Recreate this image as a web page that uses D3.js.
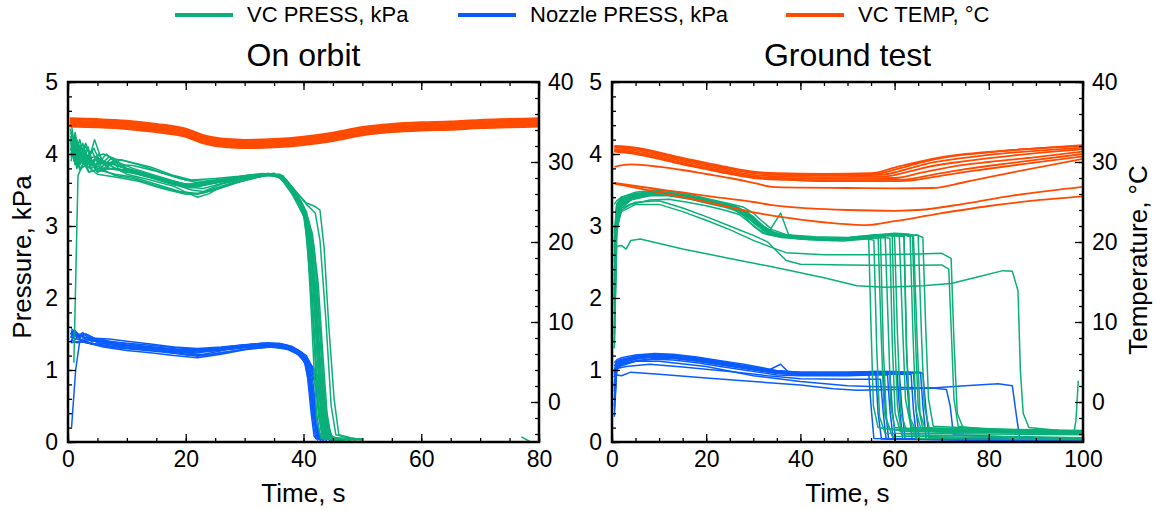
<!DOCTYPE html>
<html><head><meta charset="utf-8">
<script src="https://cdn.jsdelivr.net/npm/d3@7"></script>
<style>body{margin:0;background:#fff}svg{display:block}text{font-family:"Liberation Sans",Arial,Helvetica,sans-serif;fill:#000}</style>
</head><body><svg id="c" width="1156" height="510"></svg>
<script>
// ---------- DATA ----------
const panelTitles = ["On orbit", "Ground test"];
const legendLabels = ["VC PRESS, kPa", "Nozzle PRESS, kPa", "VC TEMP, °C"];
const orbitTimeTicks = [0, 20, 40, 60, 80];
const groundTimeTicks = [0, 20, 40, 60, 80, 100];
const pressTicks = [0, 1, 2, 3, 4, 5];
const tempTicks = [0, 10, 20, 30, 40];

// On orbit: VC pressure traces [time s, kPa]
const orbitVc = [
 [[0.4,4.35],[1,4.15],[2,4.0],[3,4.1],[4,3.95],[6,4.0],[8,3.93],[10,3.9],[14,3.82],[18,3.7],[21,3.64],[25,3.66],[29,3.69],[33,3.73],[36,3.7],[38,3.5],[39.5,3.3],[40.5,3.0],[41.2,2.0],[41.8,1.0],[42.3,0.3],[43,0.05],[46,0.02]],
 [[0.4,4.2],[1,3.95],[2,4.2],[3,3.85],[5,3.95],[7,3.8],[10,3.78],[14,3.7],[18,3.6],[21,3.55],[25,3.6],[29,3.66],[33,3.71],[36,3.68],[38,3.45],[40,3.15],[41,2.6],[41.8,1.4],[42.5,0.4],[43.2,0.05],[47,0.02]],
 [[0.5,4.3],[1.5,3.8],[2.5,4.05],[3.5,3.75],[5,3.78],[8,3.72],[11,3.68],[15,3.58],[19,3.48],[22,3.45],[26,3.55],[30,3.64],[34,3.71],[36.5,3.66],[38.5,3.4],[40.2,3.1],[41.2,2.2],[42,1.2],[42.7,0.3],[43.5,0.04],[48,0.03]],
 [[0.5,4.1],[1.2,4.25],[2,3.9],[3,4.0],[4.5,3.85],[6,3.9],[9,3.82],[12,3.76],[16,3.66],[20,3.58],[24,3.61],[28,3.66],[32,3.71],[35,3.73],[37,3.6],[39,3.4],[40.5,3.1],[41.5,2.4],[42.3,1.3],[43,0.4],[43.7,0.06],[48,0.03]],
 [[0.5,4.05],[1.5,4.2],[2.5,3.85],[4,4.05],[5.5,3.8],[7.5,3.95],[10,3.8],[14,3.68],[18,3.58],[21,3.5],[23,3.48],[26,3.58],[30,3.66],[34,3.72],[36,3.7],[38,3.52],[40,3.25],[41.3,2.9],[42.2,2.0],[43,0.9],[43.8,0.2],[44.5,0.04],[49,0.03]],
 [[0.5,3.95],[1,4.1],[2,3.8],[3.5,3.95],[5,3.75],[7,3.85],[10,3.72],[14,3.64],[18,3.55],[20,3.47],[22,3.4],[24,3.45],[26,3.55],[28,3.6],[31,3.66],[34,3.71],[36.5,3.68],[38.5,3.45],[40.5,3.15],[41.5,2.6],[42.5,1.5],[43.2,0.5],[44,0.06],[50,0.03]],
 [[0.6,4.4],[1.3,4.0],[2.2,4.12],[3.3,3.85],[5,3.95],[7,3.85],[9,3.92],[12,3.85],[16,3.74],[20,3.64],[23,3.62],[27,3.66],[31,3.71],[35,3.73],[37.5,3.55],[39.5,3.3],[40.8,3.0],[41.7,2.2],[42.4,1.1],[43,0.3],[43.6,0.05],[47,0.02]],
 [[0.5,4.15],[1.5,3.9],[2.5,4.15],[3.5,3.9],[4.5,4.2],[6,3.85],[8,3.9],[11,3.8],[15,3.7],[19,3.6],[22,3.55],[26,3.62],[30,3.68],[34,3.73],[37,3.65],[39,3.42],[40.8,3.05],[42,2.5],[42.8,1.5],[43.5,0.5],[44.2,0.06],[48,0.03]],
 [[0.5,4.25],[1.2,3.85],[2.2,3.95],[3.5,3.75],[5.5,3.8],[8,3.7],[11,3.66],[15,3.56],[19,3.47],[22,3.44],[25,3.5],[29,3.61],[33,3.69],[35.5,3.71],[37.5,3.58],[39.5,3.35],[41,3.0],[42,2.1],[42.8,1.0],[43.4,0.2],[44,0.04],[50,0.03]],
 [[0.5,4.0],[1.2,4.3],[2,3.95],[3,4.15],[4.5,3.8],[6.5,4.0],[9,3.82],[13,3.72],[17,3.62],[21,3.55],[25,3.6],[29,3.66],[33,3.72],[36,3.72],[38,3.55],[40,3.28],[41.5,2.9],[42.5,2.2],[43.3,1.2],[44,0.4],[44.7,0.06],[50,0.04]],
 [[0.5,4.1],[1.5,3.85],[3,3.95],[5,3.8],[8,3.8],[12,3.72],[16,3.63],[20,3.56],[24,3.6],[28,3.66],[32,3.71],[35,3.72],[37,3.65],[39,3.45],[40.5,3.32],[42,3.27],[42.8,3.22],[43.5,2.7],[44.3,1.6],[45.2,0.6],[46,0.1],[48,0.06],[50,0.03]],
 [[0.5,4.2],[2,3.95],[4,3.85],[6,3.8],[10,3.77],[14,3.68],[18,3.6],[22,3.56],[26,3.62],[30,3.68],[34,3.72],[36.5,3.68],[38.5,3.5],[40.5,3.3],[42,3.18],[42.8,2.8],[43.8,1.7],[44.7,0.5],[45.5,0.1],[48,0.05]],
 [[1.0,1.1],[1.7,3.7],[2.5,3.85],[3.5,4.0],[5,3.75],[7,3.8],[10,3.76],[14,3.67],[18,3.57],[21,3.53],[25,3.6],[29,3.67],[33,3.71],[36,3.7],[38,3.5],[40,3.2],[41,2.7],[41.8,1.6],[42.5,0.6],[43.2,0.1],[45,0.03]],
 [[0.5,4.3],[1.3,4.1],[2,3.85],[3,4.0],[4,3.8],[5.5,3.92],[8,3.8],[11,3.75],[15,3.67],[19,3.58],[22,3.55],[26,3.61],[30,3.67],[34,3.72],[36.5,3.7],[38.5,3.48],[40.5,3.2],[41.8,2.7],[42.8,1.6],[43.6,0.6],[44.4,0.1],[46,0.04],[50,0.04]],
 [[0.5,3.9],[1,4.05],[2,3.78],[3,3.85],[5,3.72],[8,3.68],[12,3.62],[16,3.52],[20,3.44],[23,3.46],[27,3.56],[31,3.66],[35,3.72],[37,3.62],[39,3.38],[40.7,3.05],[41.6,2.4],[42.6,1.3],[43.5,0.35],[44.3,0.06],[48,0.03]],
 [[0.5,4.25],[1,3.9],[1.8,4.15],[2.6,3.9],[3.4,4.1],[4.2,3.85],[5.2,4.0],[6.5,3.82],[8,3.88],[10,3.78],[14,3.7],[18,3.61],[21,3.56],[25,3.61],[29,3.67],[33,3.72],[36,3.71],[38,3.52],[40,3.22],[41.2,2.7],[42.1,1.7],[42.9,0.6],[43.6,0.1],[46,0.03]],
 [[0.4,4.05],[1.1,4.2],[1.9,3.85],[2.8,4.05],[3.7,3.82],[4.8,3.95],[6,3.78],[7.5,3.9],[9,3.76],[12,3.72],[16,3.63],[20,3.54],[23,3.52],[27,3.61],[31,3.68],[35,3.73],[37.5,3.6],[39.5,3.36],[41,3.05],[42.2,2.3],[43,1.3],[43.8,0.4],[44.6,0.06],[49,0.03]],
 [[0.5,4.15],[1.3,3.95],[2.2,4.1],[3.2,3.92],[4.4,4.08],[5.6,3.86],[7,3.96],[8.5,3.85],[11,3.84],[15,3.76],[19,3.66],[22,3.6],[26,3.64],[30,3.69],[34,3.73],[36.5,3.69],[38.5,3.46],[40.3,3.12],[41.3,2.5],[42.2,1.4],[43,0.5],[43.8,0.08],[47,0.03]],
 [[77,0.07],[78.6,0.0]]
];
// On orbit: nozzle pressure traces
const orbitNozzle = [
 [[0.4,1.5],[1,1.55],[2,1.48],[3,1.45],[5,1.4],[8,1.36],[12,1.32],[16,1.3],[20,1.27],[24,1.28],[28,1.32],[32,1.35],[35,1.35],[37,1.32],[39,1.25],[40,1.18],[40.7,0.9],[41.3,0.4],[41.8,0.08],[42.5,0.02]],
 [[0.4,1.45],[1.2,1.52],[2.2,1.42],[3.5,1.46],[5,1.38],[8,1.34],[12,1.3],[16,1.27],[20,1.24],[24,1.26],[28,1.3],[32,1.33],[35,1.34],[37.5,1.3],[39.5,1.22],[40.5,1.12],[41.2,0.8],[41.9,0.3],[42.5,0.05],[43.5,0.02]],
 [[0.5,1.55],[1.5,1.45],[2.5,1.52],[4,1.4],[6,1.42],[9,1.35],[13,1.31],[17,1.28],[21,1.23],[25,1.27],[29,1.31],[33,1.34],[36,1.34],[38,1.28],[40,1.18],[41,1.05],[41.8,0.6],[42.5,0.15],[43.2,0.03]],
 [[0.5,1.4],[1.3,1.5],[2.3,1.4],[3.5,1.43],[5.5,1.37],[8,1.35],[12,1.33],[16,1.29],[20,1.26],[24,1.27],[28,1.31],[32,1.34],[35.5,1.35],[37.5,1.31],[39.5,1.23],[41,1.1],[42,0.8],[42.8,0.3],[43.5,0.05],[45,0.02]],
 [[0.6,0.2],[1.3,1.0],[2,1.4],[3,1.38],[5,1.36],[8,1.32],[12,1.3],[16,1.26],[20,1.22],[23,1.22],[27,1.28],[31,1.32],[35,1.34],[37,1.31],[39,1.24],[40.3,1.15],[41,0.85],[41.7,0.35],[42.3,0.05],[43,0.02]],
 [[0.5,1.5],[1.5,1.47],[3,1.5],[4.5,1.44],[7,1.43],[10,1.4],[14,1.36],[18,1.32],[22,1.3],[26,1.32],[30,1.35],[34,1.38],[37,1.35],[39,1.28],[40.8,1.15],[42,0.95],[43,0.5],[43.8,0.1],[44.5,0.02]],
 [[0.5,1.52],[1.2,1.42],[2,1.5],[3,1.42],[5,1.4],[8,1.37],[12,1.32],[16,1.29],[20,1.25],[24,1.28],[28,1.32],[32,1.35],[36,1.34],[38,1.3],[40,1.2],[41.5,1.05],[42.5,0.9],[43.5,0.6],[44.3,0.2],[45,0.04]],
 [[0.5,1.45],[2,1.42],[4,1.36],[6,1.32],[10,1.27],[14,1.24],[18,1.2],[22,1.17],[26,1.22],[30,1.28],[34,1.32],[37,1.3],[39,1.22],[40.5,1.12],[41.5,0.9],[42.2,0.4],[42.8,0.06],[44,0.02]],
 [[0.5,1.58],[1.5,1.5],[2.5,1.46],[4,1.44],[6,1.4],[9,1.38],[13,1.35],[17,1.32],[21,1.29],[25,1.3],[29,1.34],[33,1.37],[36,1.37],[38,1.33],[39.8,1.24],[40.8,1.1],[41.5,0.7],[42.2,0.2],[42.8,0.03]],
 [[0.5,1.42],[1.5,1.38],[3,1.4],[5,1.35],[8,1.31],[12,1.28],[16,1.25],[20,1.21],[23,1.2],[27,1.25],[31,1.3],[35,1.32],[37.5,1.28],[39.5,1.2],[40.5,1.05],[41.3,0.7],[42,0.25],[42.6,0.04]],
 [[0.5,1.48],[1.2,1.55],[2,1.45],[3,1.5],[5,1.42],[8,1.39],[12,1.34],[16,1.31],[20,1.28],[24,1.29],[28,1.33],[32,1.36],[35,1.36],[37,1.34],[39,1.28],[40.5,1.2],[41.5,1.0],[42.8,0.7],[43.8,0.3],[44.6,0.05]],
 [[0.5,1.38],[2,1.4],[4,1.36],[7,1.33],[11,1.3],[15,1.27],[19,1.23],[22,1.19],[26,1.24],[30,1.29],[34,1.33],[37,1.31],[39,1.22],[40.3,1.1],[41,0.75],[41.6,0.3],[42.1,0.04]]
];
// On orbit: VC temperature traces [time s, °C]
const orbitTemp = [
 [[0.3,35.4],[5,35.3],[10,35.1],[15,34.7],[20,34.1],[23,33.3],[27,32.8],[30,32.7],[35,32.8],[40,33.1],[45,33.6],[50,34.3],[55,34.7],[60,34.9],[65,35.0],[70,35.2],[75,35.3],[80,35.4]],
 [[0.3,35.1],[5,35.0],[10,34.8],[15,34.4],[20,33.8],[23,33.0],[27,32.5],[30,32.4],[35,32.5],[40,32.8],[45,33.3],[50,34.0],[55,34.4],[60,34.6],[65,34.7],[70,34.9],[75,35.0],[80,35.1]],
 [[0.3,34.8],[5,34.7],[10,34.5],[15,34.1],[20,33.5],[23,32.7],[27,32.2],[30,32.1],[35,32.2],[40,32.5],[45,33.0],[50,33.7],[55,34.1],[60,34.3],[65,34.4],[70,34.6],[75,34.7],[80,34.8]],
 [[0.3,34.5],[5,34.4],[10,34.2],[15,33.8],[20,33.2],[23,32.4],[27,31.9],[30,31.8],[35,31.9],[40,32.2],[45,32.7],[50,33.4],[55,33.8],[60,34.0],[65,34.1],[70,34.3],[75,34.4],[80,34.5]]
];
// Ground test: VC pressure traces
const groundVc = [
 [[0.5,2.2],[1,3.1],[2,3.3],[4,3.38],[8,3.45],[12,3.44],[16,3.4],[20,3.34],[25,3.27],[28,3.2],[30,3.08],[32,2.97],[34,2.9],[37,2.86],[42,2.83],[48,2.81],[53,2.84],[54.5,2.82],[55,1.6],[55.5,0.5],[56.5,0.2],[62,0.15],[100,0.12]],
 [[0.5,1.8],[1,3.2],[2,3.35],[4,3.42],[8,3.48],[12,3.47],[16,3.42],[20,3.36],[24,3.3],[27,3.25],[29,3.15],[31,3.02],[33,2.92],[36,2.87],[42,2.84],[48,2.82],[52,2.85],[56,2.87],[56.5,2.85],[57.2,1.4],[57.8,0.4],[59,0.18],[70,0.14],[100,0.13]],
 [[0.5,2.5],[1,3.25],[2,3.38],[5,3.43],[9,3.46],[13,3.44],[17,3.39],[21,3.33],[25,3.26],[28,3.14],[30,3.0],[32,2.9],[35,2.86],[40,2.82],[47,2.8],[52,2.83],[56,2.86],[58,2.86],[58.6,1.7],[59.2,0.5],[60,0.2],[70,0.16],[100,0.14]],
 [[0.5,1.3],[1,2.9],[2,3.28],[5,3.4],[9,3.44],[13,3.43],[17,3.38],[21,3.32],[25,3.27],[28,3.2],[31,3.05],[33,2.95],[35,2.87],[40,2.84],[46,2.82],[52,2.84],[56,2.88],[59,2.88],[60,2.85],[60.6,1.5],[61.3,0.4],[62.5,0.17],[75,0.15],[100,0.12]],
 [[0.5,2.0],[1,3.15],[2,3.32],[4,3.4],[8,3.46],[12,3.45],[16,3.41],[20,3.35],[24,3.3],[27,3.24],[30,3.12],[32.5,2.98],[34.5,2.9],[38,2.86],[44,2.83],[50,2.82],[55,2.86],[59,2.88],[61,2.86],[61.7,1.6],[62.3,0.6],[63.5,0.2],[75,0.17],[100,0.15]],
 [[0.5,2.8],[1,3.3],[2,3.36],[5,3.44],[10,3.47],[14,3.45],[18,3.4],[22,3.34],[26,3.28],[29,3.18],[31,3.05],[33,2.94],[36,2.88],[41,2.84],[47,2.82],[53,2.85],[58,2.88],[62,2.86],[62.5,1.3],[63.2,0.35],[64.5,0.16],[100,0.13]],
 [[0.5,1.6],[1,3.0],[2,3.25],[4,3.36],[8,3.42],[12,3.42],[16,3.38],[20,3.32],[24,3.26],[28,3.18],[30,3.06],[32,2.95],[34,2.88],[38,2.84],[45,2.81],[51,2.83],[57,2.87],[62,2.88],[63.3,2.85],[63.9,1.5],[64.5,0.45],[65.5,0.2],[80,0.17],[100,0.15]],
 [[0.5,2.3],[1,3.2],[2,3.34],[5,3.41],[9,3.45],[13,3.44],[17,3.4],[21,3.34],[25,3.28],[28,3.16],[30.5,3.02],[33,2.9],[36,2.86],[42,2.83],[49,2.81],[55,2.85],[60,2.88],[64,2.86],[64.8,1.4],[65.4,0.4],[66.5,0.18],[100,0.14]],
 [[0.5,3.3],[1,3.35],[2,3.4],[5,3.45],[9,3.48],[13,3.46],[17,3.41],[21,3.35],[25,3.29],[28,3.21],[30,3.1],[32,2.99],[34,2.9],[37,2.86],[43,2.83],[50,2.82],[55,2.86],[60,2.88],[65,2.87],[66,2.84],[66.6,1.6],[67.2,0.6],[68.2,0.22],[80,0.18],[100,0.16]],
 [[0.5,2.6],[1,3.28],[2,3.36],[5,3.42],[9,3.45],[13,3.43],[17,3.39],[21,3.33],[25,3.27],[27.5,3.22],[29.5,3.12],[31.5,3.0],[33.5,2.9],[36,2.85],[43,2.82],[50,2.81],[54,2.83],[55.6,2.8],[56.2,1.3],[56.8,0.35],[58,0.12],[100,0.1]],
 [[0.5,2.1],[1,3.1],[2,3.3],[4,3.39],[8,3.44],[12,3.44],[16,3.39],[20,3.33],[24,3.28],[27,3.2],[29.5,3.08],[32,2.95],[34,2.88],[39,2.84],[46,2.82],[52,2.84],[57,2.87],[59.5,2.86],[60,1.5],[60.6,0.5],[61.5,0.1],[100,0.06]],
 [[0.5,2.9],[1,3.28],[2,3.33],[5,3.4],[10,3.44],[14,3.43],[18,3.38],[22,3.32],[26,3.26],[29,3.17],[31,3.04],[33,2.93],[35,2.87],[40,2.83],[47,2.81],[54,2.84],[58,2.87],[61,2.86],[62,2.85],[62.6,1.2],[63.3,0.3],[64.5,0.05],[100,0.03]],
 [[0.5,1.9],[1,3.05],[2,3.28],[4,3.37],[8,3.43],[12,3.43],[16,3.39],[20,3.33],[24,3.27],[28,3.21],[30,3.13],[32,3.0],[34,2.92],[37,2.87],[43,2.83],[50,2.82],[54,2.84],[57,2.85],[57.6,1.3],[58.3,0.3],[59.5,0.08],[100,0.05]],
 [[0.5,2.4],[1,3.2],[2,3.32],[5,3.4],[9,3.44],[13,3.43],[17,3.39],[21,3.33],[25,3.27],[28,3.2],[30,3.1],[32,3.0],[33.5,2.94],[35.8,3.18],[37.5,2.88],[40,2.84],[47,2.82],[53,2.84],[58,2.87],[63,2.88],[65,2.87],[65.7,1.5],[66.3,0.5],[67.5,0.15],[100,0.12]],
 [[0.5,2.7],[1,3.3],[2,3.4],[5,3.47],[9,3.5],[13,3.48],[17,3.43],[21,3.37],[25,3.31],[28,3.26],[30,3.18],[32,3.06],[34,2.95],[37,2.88],[43,2.85],[50,2.84],[55,2.87],[60,2.9],[63,2.89],[63.8,2.86],[64.4,1.5],[65,0.5],[66,0.18],[100,0.13]],
 [[0.5,1.4],[1,2.95],[2,3.22],[4,3.3],[8,3.36],[12,3.37],[16,3.33],[20,3.28],[24,3.22],[27,3.16],[29,3.06],[31,2.96],[33,2.88],[36,2.84],[42,2.81],[49,2.79],[54,2.82],[58,2.84],[59,2.83],[59.5,1.4],[60.1,0.4],[61.2,0.15],[100,0.11]],
 [[0.5,2.0],[1,3.1],[2,3.25],[5,3.33],[10,3.35],[15,3.25],[20,3.13],[25,3.0],[30,2.87],[33,2.78],[35,2.65],[37,2.52],[40,2.47],[50,2.46],[60,2.45],[70,2.46],[71.5,2.4],[72,1.6],[72.6,0.6],[73.5,0.22],[80,0.17],[100,0.15]],
 [[0.5,2.2],[1,3.0],[2,3.2],[5,3.3],[10,3.3],[15,3.2],[20,3.08],[25,2.95],[30,2.8],[34,2.7],[37,2.63],[45,2.6],[55,2.6],[65,2.61],[70,2.62],[72,2.55],[72.6,1.4],[73.3,0.4],[74.5,0.2],[85,0.17],[100,0.15]],
 [[0.5,1.5],[1,2.72],[2,2.73],[3,2.68],[4,2.8],[6,2.82],[15,2.68],[25,2.55],[35,2.42],[45,2.28],[52,2.17],[58,2.15],[66,2.17],[72,2.2],[78,2.3],[83,2.38],[85,2.37],[86.2,2.1],[86.7,1.0],[87.3,0.4],[88.5,0.2],[95,0.16],[100,0.15]],
 [[98,0.1],[98.5,0.3],[99,0.85]]
];
// Ground test: nozzle pressure traces
const groundNozzle = [
 [[0.5,0.35],[1,1.0],[2,1.1],[5,1.16],[9,1.19],[13,1.18],[18,1.14],[23,1.09],[28,1.04],[32,1.0],[35,0.97],[40,0.95],[50,0.95],[54.5,0.96],[55,0.5],[55.6,0.05],[100,0.02]],
 [[0.5,0.8],[1,1.08],[2,1.12],[5,1.18],[9,1.21],[13,1.2],[18,1.16],[23,1.11],[28,1.06],[32,1.01],[35,0.98],[40,0.96],[50,0.95],[55,0.97],[56,0.96],[56.5,0.4],[57.2,0.04],[100,0.01]],
 [[0.5,1.0],[1,1.1],[2,1.14],[5,1.17],[9,1.2],[13,1.19],[18,1.15],[23,1.1],[28,1.05],[31,1.02],[34,0.99],[40,0.96],[50,0.96],[55,0.97],[57.5,0.97],[58,0.5],[58.7,0.05],[100,0.02]],
 [[0.5,0.6],[1,1.05],[2,1.1],[5,1.15],[9,1.18],[13,1.17],[18,1.13],[23,1.08],[28,1.03],[32,0.99],[35,0.96],[40,0.94],[50,0.94],[55,0.96],[59,0.96],[59.5,0.45],[60.2,0.04],[100,0.02]],
 [[0.5,0.9],[1,1.1],[2,1.13],[5,1.19],[9,1.22],[13,1.2],[18,1.16],[23,1.11],[28,1.05],[31,1.01],[33,0.99],[35.8,1.08],[37.5,0.97],[40,0.96],[50,0.96],[56,0.97],[61,0.97],[61.5,0.5],[62.2,0.05],[100,0.02]],
 [[0.5,1.05],[1,1.12],[2,1.15],[5,1.18],[9,1.2],[13,1.19],[18,1.15],[23,1.1],[28,1.05],[32,1.0],[35,0.97],[40,0.95],[50,0.95],[56,0.96],[62.5,0.96],[63,0.5],[63.7,0.05],[100,0.01]],
 [[0.5,0.7],[1,1.06],[2,1.1],[5,1.16],[9,1.19],[13,1.18],[18,1.14],[23,1.09],[28,1.04],[32,1.0],[35,0.97],[40,0.95],[50,0.95],[56,0.96],[64,0.96],[64.5,0.5],[65.2,0.05],[100,0.02]],
 [[0.5,0.95],[1,1.1],[2,1.13],[5,1.17],[9,1.2],[13,1.19],[18,1.15],[23,1.1],[28,1.05],[32,1.01],[35,0.98],[40,0.96],[50,0.96],[56,0.97],[60,0.97],[66,0.96],[66.6,0.5],[67.3,0.06],[100,0.02]],
 [[0.5,0.45],[1,1.02],[2,1.06],[5,1.12],[9,1.15],[13,1.14],[18,1.1],[23,1.05],[28,1.0],[32,0.96],[35,0.93],[40,0.92],[50,0.92],[55,0.93],[58.5,0.93],[59,0.45],[59.7,0.04],[100,0.02]],
 [[0.5,1.1],[1,1.14],[2,1.17],[5,1.21],[9,1.23],[13,1.22],[18,1.18],[23,1.13],[28,1.08],[32,1.03],[35,0.99],[40,0.97],[50,0.97],[56,0.98],[60.5,0.98],[61,0.5],[61.7,0.05],[100,0.02]],
 [[0.5,0.75],[1,1.04],[2,1.08],[5,1.13],[9,1.16],[13,1.16],[18,1.12],[23,1.07],[28,1.02],[32,0.98],[35,0.95],[40,0.93],[50,0.93],[56,0.94],[63.5,0.94],[64,0.45],[64.7,0.04],[100,0.02]],
 [[0.5,0.98],[1,1.1],[2,1.14],[5,1.2],[9,1.22],[13,1.21],[18,1.17],[23,1.12],[28,1.06],[32,1.02],[35,0.99],[40,0.97],[50,0.97],[56,0.98],[65.5,0.97],[66,0.5],[66.7,0.05],[100,0.02]],
 [[0.5,0.9],[1,1.02],[3,1.05],[8,1.08],[15,1.04],[25,0.98],[33,0.92],[40,0.88],[50,0.87],[57,0.87],[57.6,0.4],[58.2,0.04],[100,0.02]],
 [[0.5,0.85],[1,0.93],[2,0.92],[4,0.97],[10,0.94],[20,0.89],[30,0.84],[40,0.79],[47,0.74],[52,0.72],[60,0.73],[68,0.75],[71,0.73],[71.8,0.5],[72.5,0.1],[100,0.03]],
 [[0.5,0.5],[1,1.0],[2,1.08],[5,1.12],[10,1.12],[20,1.05],[30,0.92],[40,0.84],[50,0.78],[60,0.76],[68,0.75],[75,0.78],[82,0.81],[85,0.78],[86,0.3],[86.6,0.04],[100,0.02]]
];
// Ground test: VC temperature traces
const groundTemp = [
 [[0.5,32.0],[5,31.8],[10,31.2],[15,30.5],[20,29.9],[25,29.3],[30,28.8],[35,28.6],[45,28.5],[55,28.6],[60,29.3],[65,30.0],[70,30.6],[75,31.0],[85,31.5],[100,32.0]],
 [[0.5,31.8],[5,31.6],[10,31.0],[15,30.3],[20,29.7],[25,29.1],[30,28.6],[35,28.4],[45,28.3],[57,28.4],[62,29.0],[67,29.8],[72,30.3],[80,30.9],[90,31.4],[100,31.8]],
 [[0.5,31.6],[5,31.4],[10,30.8],[15,30.1],[20,29.5],[25,28.9],[30,28.4],[35,28.2],[45,28.1],[58,28.2],[63,28.8],[68,29.5],[75,30.1],[85,30.8],[100,31.6]],
 [[0.5,31.5],[5,31.2],[10,30.6],[15,29.9],[20,29.3],[25,28.7],[30,28.2],[35,28.0],[45,27.9],[60,28.0],[66,28.7],[72,29.4],[80,30.0],[90,30.6],[100,31.3]],
 [[0.5,31.3],[5,31.0],[10,30.4],[15,29.7],[20,29.1],[25,28.5],[30,28.0],[35,27.8],[45,27.7],[62,27.8],[68,28.4],[75,29.1],[85,29.9],[100,31.0]],
 [[0.5,31.9],[5,31.7],[10,31.1],[15,30.4],[20,29.8],[25,29.2],[30,28.7],[35,28.5],[45,28.4],[56,28.5],[61,29.2],[66,30.0],[72,30.7],[80,31.2],[90,31.7],[100,32.1]],
 [[0.5,31.4],[5,31.1],[10,30.5],[15,29.8],[20,29.2],[25,28.6],[30,28.1],[35,27.9],[45,27.6],[60,27.6],[65,27.8],[70,28.3],[78,29.0],[88,29.8],[100,30.7]],
 [[0.5,29.4],[4,29.7],[10,29.4],[15,29.0],[20,28.5],[25,28.0],[30,27.4],[34,26.9],[40,26.8],[50,26.75],[60,26.7],[68,26.75],[75,27.5],[85,28.7],[100,30.4]],
 [[0.5,27.4],[5,27.0],[15,26.2],[22,25.6],[30,25.0],[34,24.6],[42,24.2],[50,24.0],[60,23.9],[65,24.0],[75,24.8],[85,25.8],[100,26.9]],
 [[0.5,27.3],[10,26.2],[20,25.0],[31,23.6],[40,22.8],[48,22.3],[54,22.1],[60,22.6],[68,23.4],[80,24.5],[90,25.2],[100,25.7]]
];

// ---------- STYLE ----------
const C_VC = "#0aaf79", C_NOZ = "#0a5cff", C_TEMP = "#ff4a00";
const svg = d3.select("#c");
const yTop = 82, yBot = 442;
const panels = [
  {x0: 68, x1: 539, tmax: 80, ticks: orbitTimeTicks, title: panelTitles[0], vc: orbitVc, noz: orbitNozzle, temp: orbitTemp},
  {x0: 612, x1: 1083, tmax: 100, ticks: groundTimeTicks, title: panelTitles[1], vc: groundVc, noz: groundNozzle, temp: groundTemp}
];
const yP = d3.scaleLinear().domain([0, 5]).range([yBot, yTop]);
const yT = d3.scaleLinear().domain([-5, 40]).range([yBot, yTop]);

panels.forEach((p, i) => {
  const x = d3.scaleLinear().domain([0, p.tmax]).range([p.x0, p.x1]);
  const g = svg.append("g");
  const clipId = "clip" + i;
  svg.append("clipPath").attr("id", clipId).append("rect")
     .attr("x", p.x0).attr("y", yTop).attr("width", p.x1 - p.x0).attr("height", yBot - yTop);
  const data = g.append("g").attr("clip-path", `url(#${clipId})`);
  const lp = d3.line().x(d => x(d[0])).y(d => yP(d[1]));
  const lt = d3.line().x(d => x(d[0])).y(d => yT(d[1])).curve(d3.curveMonotoneX);
  data.append("g").selectAll("path").data(p.noz).join("path").attr("d", lp)
     .attr("fill", "none").attr("stroke", C_NOZ).attr("stroke-width", 1.5).attr("stroke-linejoin", "round");
  data.append("g").selectAll("path").data(p.vc).join("path").attr("d", lp)
     .attr("fill", "none").attr("stroke", C_VC).attr("stroke-width", 1.5).attr("stroke-linejoin", "round");
  data.append("g").selectAll("path").data(p.temp).join("path").attr("d", lt)
     .attr("fill", "none").attr("stroke", C_TEMP).attr("stroke-width", i === 0 ? 3 : 1.8).attr("stroke-linejoin", "round");

  const minorX = d3.range(0, p.tmax + 0.1, 5);
  const minorP = d3.range(0, 5.01, 0.2);
  const minorT = d3.range(-4, 40.1, 2);
  const tickFmt = d3.format("d");
  g.append("g").attr("transform", `translate(0,${yBot})`)
    .call(d3.axisBottom(x).tickValues(minorX).tickSize(-4).tickFormat(""));
  g.append("g").attr("transform", `translate(0,${yBot})`)
    .call(d3.axisBottom(x).tickValues(p.ticks).tickSize(-8).tickPadding(9).tickFormat(tickFmt));
  g.append("g").attr("transform", `translate(0,${yTop})`)
    .call(d3.axisTop(x).tickValues(minorX).tickSize(-4).tickFormat(""));
  g.append("g").attr("transform", `translate(0,${yTop})`)
    .call(d3.axisTop(x).tickValues(p.ticks).tickSize(-8).tickFormat(""));
  g.append("g").attr("transform", `translate(${p.x0},0)`)
    .call(d3.axisLeft(yP).tickValues(minorP).tickSize(-4).tickFormat(""));
  g.append("g").attr("transform", `translate(${p.x0},0)`)
    .call(d3.axisLeft(yP).tickValues(pressTicks).tickSize(-8).tickPadding(10).tickFormat(tickFmt));
  g.append("g").attr("transform", `translate(${p.x1},0)`)
    .call(d3.axisRight(yT).tickValues(minorT).tickSize(-4).tickFormat(""));
  g.append("g").attr("transform", `translate(${p.x1},0)`)
    .call(d3.axisRight(yT).tickValues(tempTicks).tickSize(-8).tickPadding(9).tickFormat(tickFmt));

  g.selectAll(".domain").remove();
  g.selectAll(".tick line").attr("stroke", "#000").attr("stroke-width", 1.3);
  g.selectAll(".tick text").attr("font-size", 23).attr("font-family", "'Liberation Sans', Arial, sans-serif").attr("fill", "#000");

  g.append("rect").attr("x", p.x0).attr("y", yTop).attr("width", p.x1 - p.x0).attr("height", yBot - yTop)
    .attr("fill", "none").attr("stroke", "#000").attr("stroke-width", 2.5);

  g.append("text").attr("x", (p.x0 + p.x1) / 2).attr("y", 66).attr("text-anchor", "middle")
    .attr("font-size", 32).text(p.title);
  g.append("text").attr("x", (p.x0 + p.x1) / 2).attr("y", 502).attr("text-anchor", "middle")
    .attr("font-size", 26).text("Time, s");
});

svg.append("text").attr("transform", "translate(31,257) rotate(-90)").attr("text-anchor", "middle")
  .attr("font-size", 26).text("Pressure, kPa");
svg.append("text").attr("transform", "translate(1147,260) rotate(-90)").attr("text-anchor", "middle")
  .attr("font-size", 26).text("Temperature, °C");

const legendX = [175, 458, 786];
const legendColors = [C_VC, C_NOZ, C_TEMP];
legendLabels.forEach((lab, i) => {
  svg.append("line").attr("x1", legendX[i]).attr("x2", legendX[i] + 58).attr("y1", 15).attr("y2", 15)
    .attr("stroke", legendColors[i]).attr("stroke-width", 4);
  svg.append("text").attr("x", legendX[i] + 72).attr("y", 22).attr("font-size", 22).text(lab);
});
</script></body></html>
